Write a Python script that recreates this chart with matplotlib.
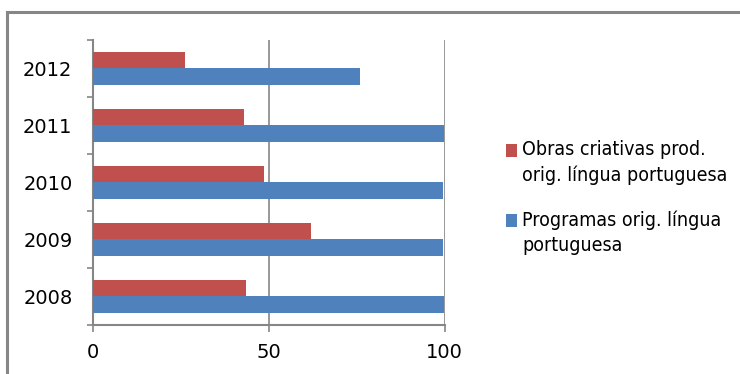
import matplotlib
matplotlib.use("Agg")
import matplotlib.pyplot as plt
from matplotlib.lines import Line2D
from matplotlib.patches import Rectangle
import numpy as np

# Data
years = ["2008", "2009", "2010", "2011", "2012"]
obras = [43.4, 61.9, 48.6, 42.9, 26.1]          # Obras criativas prod. orig. língua portuguesa
programas = [99.8, 99.4, 99.4, 99.8, 75.9]      # Programas orig. língua portuguesa
series_labels = ["Obras criativas prod.\norig. língua portuguesa",
                 "Programas orig. língua\nportuguesa"]
xticks = [0, 50, 100]

RED = "#C0504D"
BLUE = "#4F81BD"
GRAY = "#868686"

plt.rcParams['font.family'] = ['DejaVu Sans']

fig = plt.figure(figsize=(7.4, 3.74), dpi=100)
ax = fig.add_axes([93.3 / 740, 49.3 / 374, 351.4 / 740, 284.7 / 374])

y = np.arange(len(years))
h = 0.29
ax.barh(y + h / 2, obras, height=h, color=RED, zorder=3)
ax.barh(y - h / 2, programas, height=h, color=BLUE, zorder=3)

ax.set_xlim(0, 100)
ax.set_ylim(-0.5, len(years) - 0.5)

# gridlines
ax.set_xticks(xticks)
ax.grid(axis='x', color=GRAY, linewidth=1.2, zorder=1)
ax.tick_params(axis='x', direction='out', length=4.7, width=1.2, color=GRAY,
               pad=8.5, labelsize=14, labelcolor='black')

# category axis: labels at centers, ticks at boundaries
ax.set_yticks(y)
ax.set_yticklabels(years)
ax.set_yticks(np.arange(-0.5, len(years)), minor=True)
ax.tick_params(axis='y', which='major', length=0, pad=15, labelsize=14)
ax.tick_params(axis='y', which='minor', direction='out', length=4.5, width=1.2, color=GRAY)

for side in ['top', 'right']:
    ax.spines[side].set_visible(False)
for side in ['left', 'bottom']:
    ax.spines[side].set_color(GRAY)
    ax.spines[side].set_linewidth(1.5)

# outer chart border (top and left edges visible)
fig.add_artist(Line2D([7 / 740, 7 / 740], [0, 1 - 12 / 374], transform=fig.transFigure,
                      color=GRAY, linewidth=2.2))
fig.add_artist(Line2D([7 / 740, 1], [1 - 12 / 374, 1 - 12 / 374], transform=fig.transFigure,
                      color=GRAY, linewidth=2.2))

# legend
legend_items = [(series_labels[0], RED, 144), (series_labels[1], BLUE, 214)]
for label, color, ytop in legend_items:
    fig.add_artist(Rectangle((506 / 740, 1 - (ytop + 13) / 374), 11 / 740, 13 / 374,
                             transform=fig.transFigure, facecolor=color, edgecolor='none'))
    fig.text(522 / 740, 1 - (ytop - 4) / 374, label, ha='left', va='top',
             fontsize=14, linespacing=1.45, fontstretch='condensed')

fig.savefig("out.png", dpi=100)
